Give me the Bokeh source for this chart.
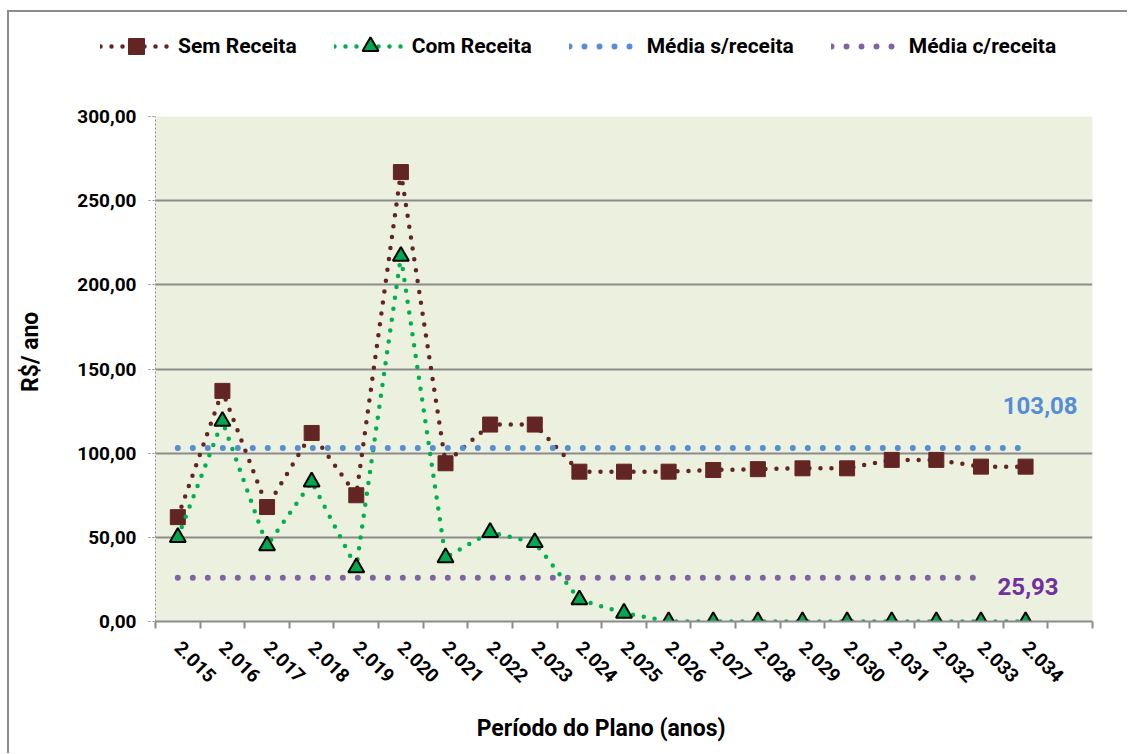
import math
from bokeh.plotting import figure
from bokeh.models import Range1d, FixedTicker, Legend, LegendItem, ColumnDataSource
from bokeh.core.properties import value
from bokeh.embed import file_html
from bokeh.resources import INLINE

# ---- data ----
anos = ["2.015", "2.016", "2.017", "2.018", "2.019", "2.020", "2.021", "2.022", "2.023", "2.024",
        "2.025", "2.026", "2.027", "2.028", "2.029", "2.030", "2.031", "2.032", "2.033", "2.034"]
sem_receita = [62, 137, 68, 112, 75, 267, 94, 117, 117, 89, 89, 89, 90, 90.5, 91, 91, 96, 96, 92, 92]
com_receita = [50, 119, 45, 83, 32, 217, 38, 53, 47, 13, 5, 0, 0, 0, 0, 0, 0, 0, 0, 0]
media_sem_receita = [103.08] * 20
media_com_receita = [25.93] * 19
y_ticks = [0, 50, 100, 150, 200, 250, 300]
y_tick_labels = ["0,00", "50,00", "100,00", "150,00", "200,00", "250,00", "300,00"]
rotulos_media = ["103,08", "25,93"]
valores_media = [103.08, 25.93]
series_nomes = ["Sem Receita", "Com Receita", "Média s/receita", "Média c/receita"]
titulo_x = "Período do Plano (anos)"
titulo_y = "R$/ ano"

FONT = "Roboto"
C_SEM = "#632523"
C_COM = "#00b050"
C_MS = "#558ed5"
C_MC = "#8064a2"
GRID = "#8c8c8c"
NB = "\u00a0"

n_bands = len(anos) + 1
xs = [i + 0.5 for i in range(len(anos))]


def draw_series(fig):
    r1 = fig.line(xs, sem_receita, line_color=C_SEM, line_width=4.5, line_dash="0 11", line_cap="round")
    r2 = fig.scatter(xs, sem_receita, marker="square", size=15, fill_color=C_SEM, line_color=C_SEM)
    r3 = fig.line(xs, com_receita, line_color=C_COM, line_width=4.5, line_dash="0 11", line_cap="round")
    r4 = fig.scatter(xs, com_receita, marker="triangle", size=16, fill_color="#00a84f",
                     line_color="black", line_width=2)
    r5 = fig.line(xs, media_sem_receita, line_color=C_MS, line_width=6, line_dash="0 15", line_cap="round")
    r6 = fig.line(xs[:len(media_com_receita)], media_com_receita, line_color=C_MC, line_width=6,
                  line_dash="0 15", line_cap="round")
    return [[r1, r2], [r3, r4], [r5], [r6]]


# ---- legend strip (separate root with a full-width frame, so the legend is not clipped) ----
top = figure(width=1120, height=83, output_backend="svg", toolbar_location=None,
             x_range=Range1d(0, n_bands), y_range=Range1d(-1000, -999),
             x_axis_type=None, y_axis_type=None,
             min_border_left=0, min_border_right=0, min_border_top=0, min_border_bottom=0,
             background_fill_color="white", border_fill_color="white", outline_line_color=None)
top.styles = {"margin-left": "7px", "margin-top": "10px",
              "border-left": "2px solid #8c8c8c", "border-top": "2px solid #8c8c8c"}
top.xgrid.visible = False
top.ygrid.visible = False
groups_top = draw_series(top)
legend = Legend(items=[LegendItem(label=n, renderers=g) for n, g in zip(series_nomes, groups_top)],
                orientation="horizontal", location=(91, 29), glyph_width=72, glyph_height=40,
                label_standoff=6, spacing=37, padding=0, margin=0,
                border_line_color=None, background_fill_alpha=0,
                label_text_font=FONT, label_text_font_size="21px", label_text_font_style="bold",
                label_text_color="black")
top.add_layout(legend)

# ---- main chart ----
p = figure(width=1120, height=660, output_backend="svg", toolbar_location=None,
           x_range=Range1d(0, n_bands), y_range=Range1d(0, 300),
           min_border_left=146, min_border_right=37, min_border_top=23, min_border_bottom=132,
           background_fill_color="#ebf1de", border_fill_color="white", outline_line_color=None)
p.styles = {"margin-left": "7px", "border-left": "2px solid #8c8c8c"}

xa = p.xaxis[0]
xa.ticker = FixedTicker(ticks=xs, minor_ticks=list(range(n_bands + 1)))
xa.major_label_overrides = {x: a for x, a in zip(xs, anos)}
xa.major_label_orientation = -math.pi / 4
xa.major_tick_line_color = None
xa.major_tick_out = 7
xa.major_tick_in = 0
xa.minor_tick_out = 7
xa.minor_tick_in = 0
xa.minor_tick_line_color = GRID
xa.minor_tick_line_width = 2
xa.axis_line_color = GRID
xa.axis_line_width = 2
xa.major_label_standoff = 16
xa.major_label_text_font = FONT
xa.major_label_text_font_size = "19px"
xa.major_label_text_font_style = "bold"
xa.major_label_text_color = "black"
xa.axis_label = titulo_x + NB * 8
xa.axis_label_standoff = 24
xa.axis_label_text_font = FONT
xa.axis_label_text_font_size = "23px"
xa.axis_label_text_font_style = "bold"
xa.axis_label_text_color = "black"

ya = p.yaxis[0]
ya.ticker = FixedTicker(ticks=y_ticks)
ya.major_label_overrides = {t: l for t, l in zip(y_ticks, y_tick_labels)}
ya.axis_line_color = GRID
ya.axis_line_dash = "2 2"
ya.major_tick_line_color = GRID
ya.major_tick_line_dash = "2 2"
ya.major_tick_out = 7
ya.major_tick_in = 0
ya.minor_tick_line_color = None
ya.major_label_standoff = 12
ya.major_label_text_font = FONT
ya.major_label_text_font_size = "19px"
ya.major_label_text_font_style = "bold"
ya.major_label_text_color = "black"
ya.axis_label = NB * 6 + titulo_y
ya.axis_label_standoff = 30
ya.axis_label_text_font = FONT
ya.axis_label_text_font_size = "23px"
ya.axis_label_text_font_style = "bold"
ya.axis_label_text_color = "black"

p.xgrid.visible = False
p.ygrid.grid_line_color = GRID
p.ygrid.grid_line_width = 2

draw_series(p)

lab_src = ColumnDataSource(dict(x=[xs[-1], xs[-1]], y=valores_media, t=rotulos_media,
                                c=[C_MS, "#7030a0"], xo=[52, 33], yo=[-42, 9]))
p.text(x="x", y="y", text="t", text_color="c", x_offset="xo", y_offset="yo", source=lab_src,
       text_align="right", text_baseline="middle", text_font=value(FONT),
       text_font_size="24px", text_font_style="bold")

open("out.html", "w").write(file_html([top, p], INLINE))
